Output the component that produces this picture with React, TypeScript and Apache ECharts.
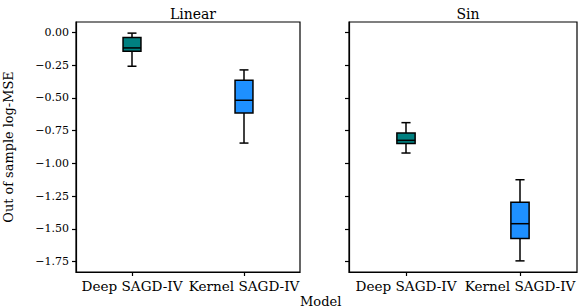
import React, { useEffect, useRef } from "react";
import * as echarts from "echarts";

const categories = ["Deep SAGD-IV", "Kernel SAGD-IV"];
// [whiskerLow, q1, median, q3, whiskerHigh]
const linearStats = [
  [-0.258, -0.143, -0.118, -0.038, -0.005],
  [-0.845, -0.615, -0.518, -0.365, -0.286],
];
const sinStats = [
  [-0.921, -0.849, -0.824, -0.768, -0.689],
  [-1.745, -1.574, -1.461, -1.298, -1.125],
];
const boxColors = ["#008080", "#1E90FF"];
const panelTitles = ["Linear", "Sin"];
const yTicks = [0, -0.25, -0.5, -0.75, -1.0, -1.25, -1.5, -1.75];

const FONT = "'DejaVu Serif', serif";

function fmt(v: number) {
  return (v < 0 ? "\u2212" : "") + Math.abs(v).toFixed(2);
}

function renderBox(params: any, api: any) {
  const idx = api.value(0);
  const lo = api.value(1);
  const q1 = api.value(2);
  const med = api.value(3);
  const q3 = api.value(4);
  const hi = api.value(5);
  const catW = api.size([1, 0])[0];
  const boxW = catW * 0.16;
  const capW = catW * 0.08;
  const pLo = api.coord([idx, lo]);
  const pQ1 = api.coord([idx, q1]);
  const pMed = api.coord([idx, med]);
  const pQ3 = api.coord([idx, q3]);
  const pHi = api.coord([idx, hi]);
  const x = pMed[0];
  const ls = { stroke: "#000", lineWidth: 1.5 };
  return {
    type: "group",
    children: [
      { type: "line", shape: { x1: x, y1: pQ1[1], x2: x, y2: pLo[1] }, style: ls },
      { type: "line", shape: { x1: x, y1: pQ3[1], x2: x, y2: pHi[1] }, style: ls },
      { type: "line", shape: { x1: x - capW / 2, y1: pLo[1], x2: x + capW / 2, y2: pLo[1] }, style: ls },
      { type: "line", shape: { x1: x - capW / 2, y1: pHi[1], x2: x + capW / 2, y2: pHi[1] }, style: ls },
      {
        type: "rect",
        shape: { x: x - boxW / 2, y: pQ3[1], width: boxW, height: pQ1[1] - pQ3[1] },
        style: { fill: boxColors[idx], stroke: "#000", lineWidth: 1.5 },
      },
      { type: "line", shape: { x1: x - boxW / 2, y1: pMed[1], x2: x + boxW / 2, y2: pMed[1] }, style: ls },
    ],
  };
}

export default function App() {
  const ref = useRef<HTMLDivElement>(null);
  useEffect(() => {
    if (!ref.current) return;
    const chart = echarts.init(ref.current, undefined, { renderer: "svg" });
    const grids = [
      { left: 76, top: 22, width: 224, height: 250 },
      { left: 349, top: 22, width: 228, height: 250 },
    ];
    const option: any = {
      animation: false,
      backgroundColor: "#fff",
      textStyle: { fontFamily: FONT },
      title: panelTitles.map((t, i) => ({
        text: t,
        left: grids[i].left + grids[i].width / 2,
        top: 2,
        textAlign: "center",
        textStyle: { fontFamily: FONT, fontSize: 14, fontWeight: "normal", color: "#000" },
      })),
      grid: grids.map((g) => ({
        ...g,
        show: true,
        borderColor: "#000",
        borderWidth: 1.2,
        backgroundColor: "transparent",
      })),
      xAxis: [0, 1].map((i) => ({
        type: "category",
        gridIndex: i,
        data: categories,
        boundaryGap: true,
        axisLine: { show: true, onZero: false, lineStyle: { color: "#000", width: 1.2 } },
        axisTick: { show: true, alignWithLabel: true, length: 4, lineStyle: { color: "#000", width: 1.2 } },
        axisLabel: { interval: 0, fontFamily: FONT, fontSize: 13.6, color: "#000", margin: 7 },
        splitLine: { show: false },
      })),
      yAxis: [0, 1].map((i) => ({
        type: "value",
        gridIndex: i,
        min: -1.83,
        max: 0.08,
        axisLine: { show: true, onZero: false, lineStyle: { color: "#000", width: 1.2 } },
        axisTick: { show: true, length: 4, customValues: yTicks, lineStyle: { color: "#000", width: 1.2 } },
        axisLabel: {
          show: i === 0,
          customValues: yTicks,
          fontFamily: FONT,
          fontSize: 11,
          color: "#000",
          margin: 7,
          formatter: (v: number) => fmt(v),
        },
        splitLine: { show: false },
        name: i === 0 ? "Out of sample log-MSE" : "",
        nameLocation: "middle",
        nameGap: 61,
        nameTextStyle: { fontFamily: FONT, fontSize: 12.9, color: "#000" },
      })),
      graphic: [
        {
          type: "text",
          left: 300,
          top: 295,
          style: { text: "Model", fontFamily: FONT, fontSize: 13, fill: "#000" },
        },
      ],
      series: [linearStats, sinStats].map((stats, i) => ({
        type: "custom",
        xAxisIndex: i,
        yAxisIndex: i,
        renderItem: renderBox,
        encode: { x: 0, y: [1, 2, 3, 4, 5] },
        data: stats.map((s, k) => [k, ...s]),
      })),
    };
    chart.setOption(option);
    return () => chart.dispose();
  }, []);
  return (
    <div
      ref={ref}
      style={{ position: "fixed", left: 0, top: 0, width: 580, height: 308 }}
    />
  );
}
